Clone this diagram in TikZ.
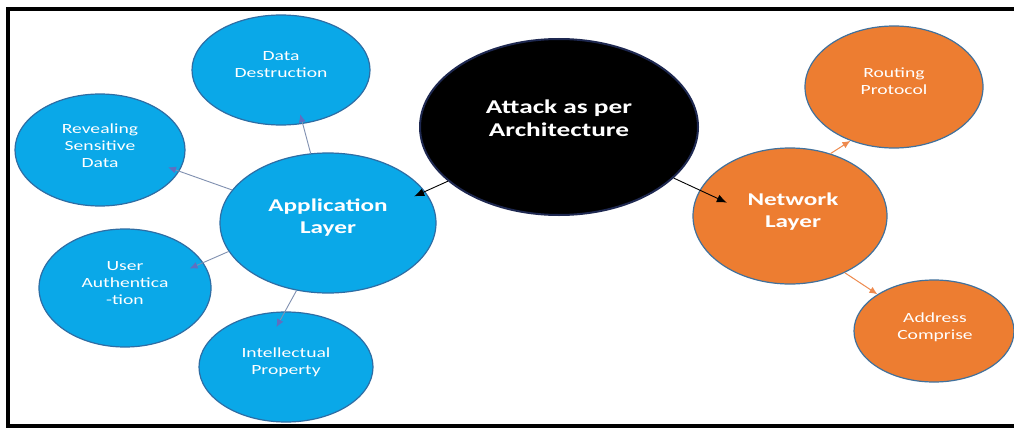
\documentclass[tikz,border=0pt]{standalone}
\usepackage{fontspec}
\setmainfont{Carlito}
\newfontfamily\wf[FakeStretch=1.4]{Carlito}
\usetikzlibrary{shapes.geometric,arrows.meta}
\definecolor{nblue}{HTML}{0AA8E8}
\definecolor{nblueline}{HTML}{2E6DA4}
\definecolor{norange}{HTML}{ED7D31}
\definecolor{norangeline}{HTML}{41719C}
\definecolor{nblackline}{HTML}{1E2850}
\definecolor{bconn}{HTML}{8090B0}
\definecolor{bhead}{HTML}{5F6FC0}
\definecolor{oconn}{HTML}{EE8A4E}
\begin{document}
\begin{tikzpicture}[x=1pt,y=-1pt,
  ell/.style={ellipse, inner sep=0pt, line width=1.2pt},
  bluenode/.style={ell, fill=nblue, draw=nblueline},
  orangenode/.style={ell, fill=norange, draw=norangeline},
  blacknode/.style={ell, fill=black, draw=nblackline, line width=2pt},
  smalltxt/.style={text=white, align=center, inner sep=0pt, font=\wf\fontsize{14}{17}\selectfont},
  bigtxt/.style={text=white, align=center, inner sep=0pt, font=\wf\bfseries\fontsize{18}{22}\selectfont},
  hugetxt/.style={text=white, align=center, inner sep=0pt, font=\wf\bfseries\fontsize{19.5}{23.5}\selectfont},
  barr/.style={draw=bconn, line width=0.9pt, -{Latex[length=8pt,width=7pt,color=bhead]}},
  karr/.style={draw=black, line width=0.9pt, -{Latex[length=10pt,width=8pt]}},
  oarr/.style={draw=oconn, line width=1pt, -{Latex[length=8pt,width=7pt]}},
  frame/.style={draw=black, line width=4pt}
]
\useasboundingbox (0,0) rectangle (1014,428);
\fill[white] (0,0) rectangle (1014,428);
\draw[frame] (1014,9) -- (7.5,9) -- (7.5,425.5) -- (1014,425.5);

% ellipses
\node[bluenode, minimum width=178pt, minimum height=110pt] (dd) at (281,70) {};
\node[bluenode, minimum width=170pt, minimum height=112pt] (rev) at (100,150) {};
\node[bluenode, minimum width=216pt, minimum height=140pt] (app) at (328,223) {};
\node[bluenode, minimum width=172pt, minimum height=118pt] (ua) at (125,288) {};
\node[bluenode, minimum width=174pt, minimum height=110pt] (ip) at (286,367) {};
\node[blacknode, minimum width=278pt, minimum height=176pt] (att) at (559,127) {};
\node[orangenode, minimum width=194pt, minimum height=136pt] (net) at (790,216) {};
\node[orangenode, minimum width=178pt, minimum height=122pt] (rp) at (894,87) {};
\node[orangenode, minimum width=160pt, minimum height=102pt] (ac) at (934,331) {};

% texts
\node[smalltxt] (ddt) at (281,65) {Data\\Destruction};
\node[smalltxt] (revt) at (100,146) {Revealing\\Sensitive\\Data};
\node[bigtxt] (appt) at (328,218) {Application\\Layer};
\node[smalltxt] (uat) at (125,283) {User\\Authentica\\-tion};
\node[smalltxt] (ipt) at (286,362) {Intellectual\\Property};
\node[hugetxt] (attt) at (559,118) {Attack as per\\Architecture};
\node[bigtxt] (nett) at (793,212) {Network\\Layer};
\node[smalltxt] (rpt) at (894,81) {Routing\\Protocol};
\node[smalltxt] (act) at (935,327) {Address\\Comprise};

% connectors
\draw[karr, shorten >=-12pt] (att.206) -- (app.18);
\draw[karr, shorten >=-30pt] (att.336) -- (net.164);
\draw[barr, shorten >=-10pt] (app.104) -- (dd.292);
\draw[barr, shorten >=-12pt] (app.161) -- (rev.345);
\draw[barr, shorten >=-15pt] (app.196) -- (ua.18);
\draw[barr, shorten >=-18pt] (app.245) -- (ip.91);
\draw[oarr] (net.57) -- (rp.231);
\draw[oarr] (net.314) -- (ac.147);
\end{tikzpicture}
\end{document}
